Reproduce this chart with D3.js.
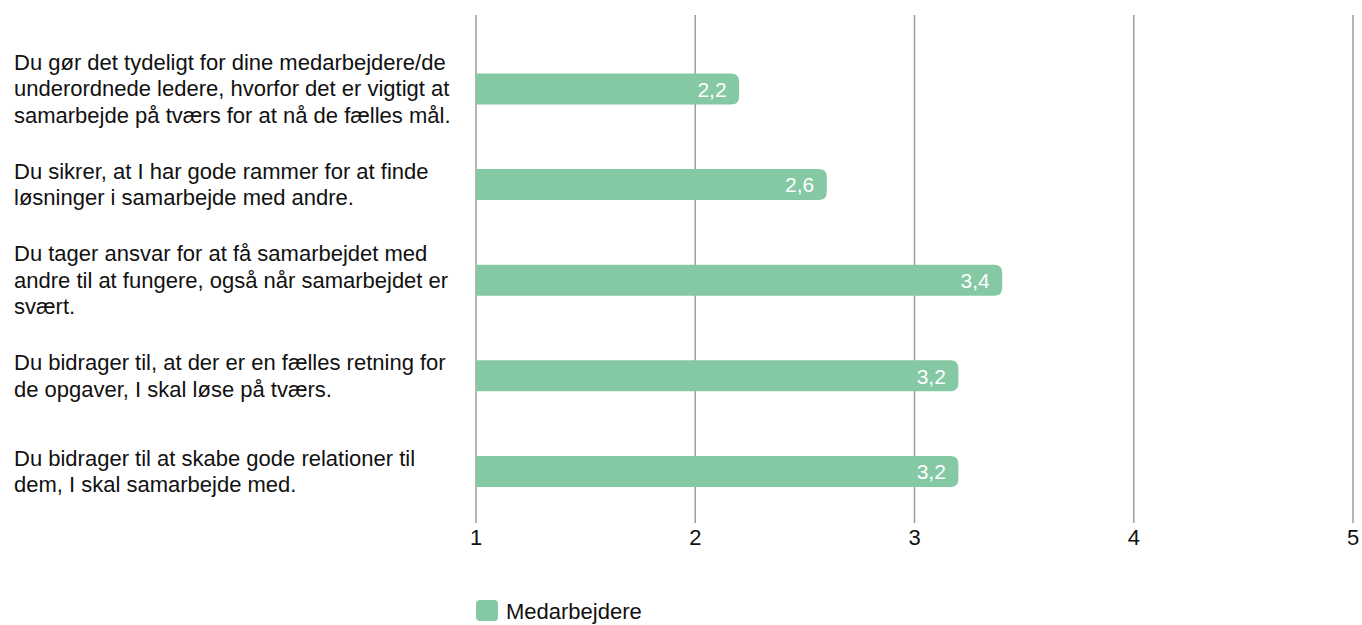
<!DOCTYPE html>
<html>
<head>
<meta charset="utf-8">
<script src="https://cdn.jsdelivr.net/npm/d3@7"></script>
<style>
  body { margin: 0; background: #fff; }
  svg { display: block; font-family: Arial, "Liberation Sans", sans-serif; }
</style>
</head>
<body>
<div id="chart"></div>
<script>
// data
var categories = [
    "Du gør det tydeligt for dine medarbejdere/de underordnede ledere, hvorfor det er vigtigt at samarbejde på tværs for at nå de fælles mål.",
    "Du sikrer, at I har gode rammer for at finde løsninger i samarbejde med andre.",
    "Du tager ansvar for at få samarbejdet med andre til at fungere, også når samarbejdet er svært.",
    "Du bidrager til, at der er en fælles retning for de opgaver, I skal løse på tværs.",
    "Du bidrager til at skabe gode relationer til dem, I skal samarbejde med."
];
var values = [2.2, 2.6, 3.4, 3.2, 3.2];
var tickValues = [1, 2, 3, 4, 5];
var seriesName = "Medarbejdere";

var width = 1362;
var height = 625;
var colour = "#85c8a4";
var barHeight = 31;
var r = 8;

var svg = d3.select("#chart").append("svg")
    .attr("width", width)
    .attr("height", height);

// scales
var x = d3.scaleLinear().domain([1, 5]).range([476, 1353]);
var y = d3.scalePoint().domain(categories).range([88.9, 471.4]);

// gridlines
svg.selectAll("line.grid")
    .data(tickValues)
    .enter()
    .append("line")
    .attr("class", "grid")
    .attr("x1", function (d) { return x(d); })
    .attr("x2", function (d) { return x(d); })
    .attr("y1", 15)
    .attr("y2", 523)
    .attr("stroke", "#9e9e9e")
    .attr("stroke-width", 1.5);

// tick labels
svg.selectAll("text.tick")
    .data(tickValues)
    .enter()
    .append("text")
    .attr("class", "tick")
    .attr("x", function (d) { return x(d); })
    .attr("y", 545)
    .attr("text-anchor", "middle")
    .attr("font-size", 22)
    .attr("fill", "#111")
    .text(function (d) { return d; });

// bars: flat on the left, rounded on the right
function barPath(v, cy) {
    var x0 = x(1), x1 = x(v);
    var t = cy - barHeight / 2, b = cy + barHeight / 2;
    return "M" + x0 + "," + t +
        "H" + (x1 - r) +
        "Q" + x1 + "," + t + " " + x1 + "," + (t + r) +
        "V" + (b - r) +
        "Q" + x1 + "," + b + " " + (x1 - r) + "," + b +
        "H" + x0 + "Z";
}

var rows = categories.map(function (c, i) { return { cat: c, val: values[i] }; });

svg.selectAll("path.bar")
    .data(rows)
    .enter()
    .append("path")
    .attr("class", "bar")
    .attr("d", function (d) { return barPath(d.val, y(d.cat)); })
    .attr("fill", colour);

// value labels
svg.selectAll("text.val")
    .data(rows)
    .enter()
    .append("text")
    .attr("class", "val")
    .attr("x", function (d) { return x(d.val) - 12.5; })
    .attr("y", function (d) { return y(d.cat); })
    .attr("dy", "0.37em")
    .attr("text-anchor", "end")
    .attr("font-size", 21)
    .attr("fill", "#fff")
    .text(function (d) { return String(d.val).replace(".", ","); });

// category labels, wrapped
var lineH = 26.6;
var maxW = 450;
svg.selectAll("text.cat")
    .data(rows)
    .enter()
    .append("text")
    .attr("class", "cat")
    .attr("x", 14)
    .attr("font-size", 22)
    .attr("fill", "#111")
    .each(function (d) {
        var el = d3.select(this);
        var words = d.cat.split(" ");
        var lines = [];
        var cur = [];
        var probe = el.append("tspan");
        words.forEach(function (w) {
            cur.push(w);
            probe.text(cur.join(" "));
            if (probe.node().getComputedTextLength() > maxW && cur.length > 1) {
                cur.pop();
                lines.push(cur.join(" "));
                cur = [w];
            }
        });
        lines.push(cur.join(" "));
        probe.remove();
        var first = y(d.cat) + 7.5 - (lines.length - 1) * lineH / 2;
        lines.forEach(function (l, i) {
            el.append("tspan")
                .attr("x", 14)
                .attr("y", first + i * lineH)
                .text(l);
        });
    });

// legend (nudged up a little so the descender stays inside the frame)
var legend = svg.append("g").attr("transform", "translate(476,600)");
legend.append("rect")
    .attr("width", 22)
    .attr("height", 21)
    .attr("rx", 4)
    .attr("fill", colour);
legend.append("text")
    .attr("x", 30)
    .attr("y", 19)
    .attr("font-size", 22)
    .attr("fill", "#111")
    .text(seriesName);
</script>
</body>
</html>
